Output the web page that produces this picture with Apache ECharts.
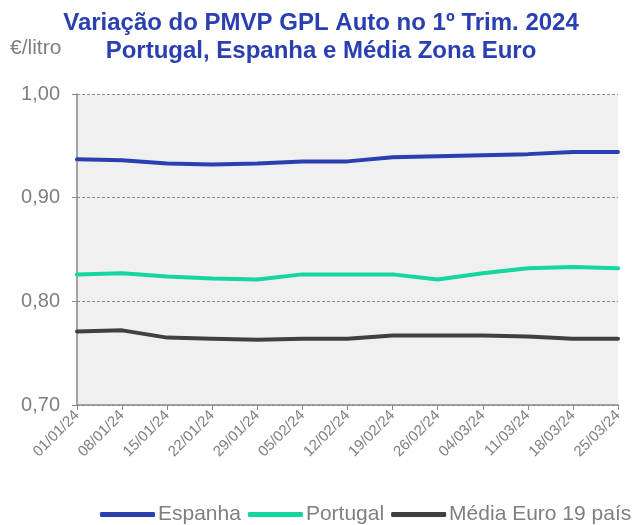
<!DOCTYPE html>
<html>
<head>
<meta charset="utf-8">
<script src="https://cdn.jsdelivr.net/npm/echarts@6/dist/echarts.min.js"></script>
<style>
  html, body { margin: 0; padding: 0; background: #fff; }
  #chart { width: 640px; height: 525px; }
</style>
</head>
<body>
<div id="chart"></div>
<script>
var dates = ['01/01/24', '08/01/24', '15/01/24', '22/01/24', '29/01/24', '05/02/24', '12/02/24',
    '19/02/24', '26/02/24', '04/03/24', '11/03/24', '18/03/24', '25/03/24'];
var espanha = [0.937, 0.936, 0.933, 0.932, 0.933, 0.935, 0.935, 0.939, 0.940, 0.941, 0.942, 0.944, 0.944];
var portugal = [0.826, 0.827, 0.824, 0.822, 0.821, 0.826, 0.826, 0.826, 0.821, 0.827, 0.832, 0.833, 0.832];
var mediaEuro = [0.771, 0.772, 0.765, 0.764, 0.763, 0.764, 0.764, 0.767, 0.767, 0.767, 0.766, 0.764, 0.764];

var gray = '#7f7f7f';
var font = 'Liberation Sans, Arial, sans-serif';

var myChart = echarts.init(document.getElementById('chart'));

function line(name, values, color) {
    return {
        name: name,
        type: 'line',
        data: values,
        symbol: 'none',
        lineStyle: { color: color, width: 4, cap: 'round', join: 'round' },
        itemStyle: { color: color }
    };
}

var option = {
    animation: false,
    textStyle: { fontFamily: font },
    title: [{
        text: 'Variação do PMVP GPL Auto no 1º Trim. 2024\nPortugal, Espanha e Média Zona Euro',
        left: 316,
        textAlign: 'center',
        top: 4,
        textStyle: {
            color: '#2b40b0',
            fontSize: 24,
            fontWeight: 'bold',
            fontFamily: font,
            lineHeight: 28
        }
    }, {
        text: '€/litro',
        left: 5,
        top: 33,
        textStyle: { color: gray, fontSize: 21, fontWeight: 'normal', fontFamily: font }
    }],
    legend: {
        bottom: -5,
        left: 95,
        itemWidth: 55,
        itemHeight: 5,
        itemGap: 7,
        icon: 'roundRect',
        textStyle: { color: gray, fontSize: 21, fontFamily: font, padding: [0, 0, 0, -2] },
        data: ['Espanha', 'Portugal', 'Média Euro 19 país']
    },
    grid: {
        left: 77,
        right: 22,
        top: 94,
        bottom: 120,
        show: true,
        backgroundColor: '#f0f0f0',
        borderWidth: 0
    },
    xAxis: {
        type: 'category',
        data: dates,
        boundaryGap: false,
        axisLine: { lineStyle: { color: '#898989', width: 1.5 } },
        axisTick: { show: true, length: 5, lineStyle: { color: '#898989' } },
        axisLabel: {
            rotate: 45,
            color: gray,
            fontSize: 15,
            margin: 8,
            interval: 0
        }
    },
    yAxis: {
        type: 'value',
        min: 0.7,
        max: 1.0,
        interval: 0.1,
        axisLine: { show: true, lineStyle: { color: '#898989', width: 1.5 } },
        axisTick: { show: true, length: 5, lineStyle: { color: '#898989' } },
        splitLine: { lineStyle: { color: '#8c8c8c', type: [3, 2], width: 1 } },
        axisLabel: {
            color: gray,
            fontSize: 20,
            margin: 17,
            formatter: function (v) { return v.toFixed(2).replace('.', ','); }
        }
    },
    series: [
        line('Espanha', espanha, '#2b40b0'),
        line('Portugal', portugal, '#14d69e'),
        line('Média Euro 19 país', mediaEuro, '#404040')
    ]
};

myChart.setOption(option);
</script>
</body>
</html>
